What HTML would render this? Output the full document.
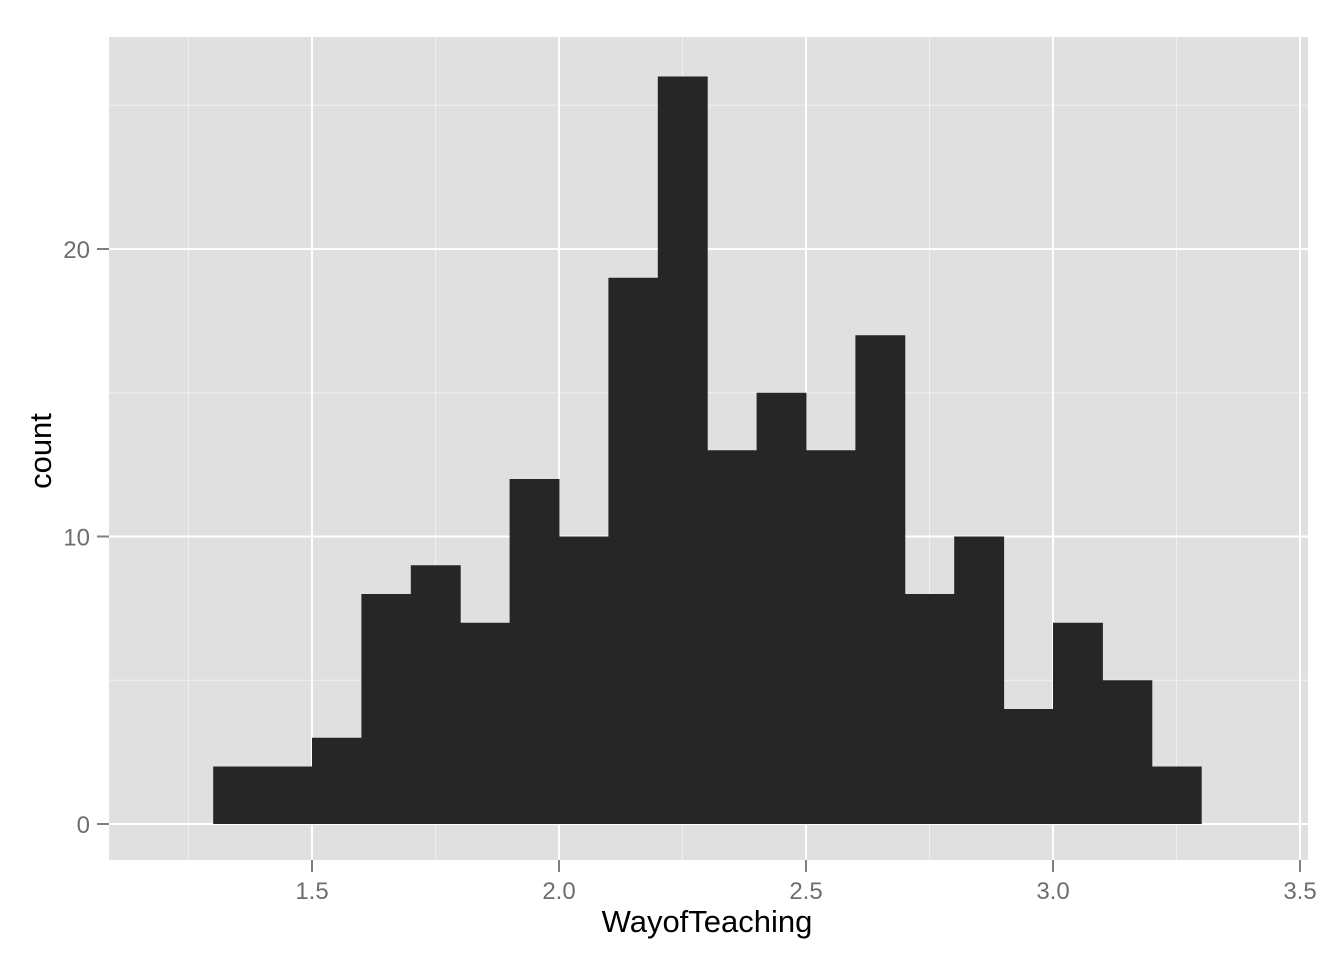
<!DOCTYPE html>
<html><head><meta charset="utf-8"><style>
body{margin:0;background:#fff;}
svg text{font-family:"Liberation Sans",Arial,sans-serif;}
</style></head><body>
<svg id="chart" width="1344" height="960">
<rect x="109" y="37" width="1199" height="823" fill="#e0e0e0"/>
<g id="grid"></g><g id="bars"></g><g id="axes"></g>
<text x="707" y="932" font-size="31" text-anchor="middle" fill="#000">WayofTeaching</text>
<text transform="translate(51,451) rotate(-90)" font-size="31" text-anchor="middle" fill="#000">count</text>
</svg>
<script>
const binStarts=[1.3,1.4,1.5,1.6,1.7,1.8,1.9,2.0,2.1,2.2,2.3,2.4,2.5,2.6,2.7,2.8,2.9,3.0,3.1,3.2];
const counts=[2,2,3,8,9,7,12,10,19,26,13,15,13,17,8,10,4,7,5,2];
const xTicks=[1.5,2.0,2.5,3.0,3.5];
const xTickLabels=["1.5","2.0","2.5","3.0","3.5"];
const yTicks=[0,10,20];
const xMinor=[1.25,1.75,2.25,2.75,3.25];
const yMinor=[5,15,25];
const binWidth=0.1;
const X=v=>312+(v-1.5)*494;
const Y=v=>824-v*28.75;
const ns="http://www.w3.org/2000/svg";
function mk(p,t,a){const e=document.createElementNS(ns,t);for(const k in a)e.setAttribute(k,a[k]);p.appendChild(e);return e;}
const g=document.getElementById('grid'),b=document.getElementById('bars'),ax=document.getElementById('axes');
xMinor.forEach(v=>{const l=mk(g,'line',{x1:X(v),x2:X(v),y1:37,y2:860,stroke:'#f0f0f0','stroke-width':1});

});
yMinor.forEach(v=>{const l=mk(g,'line',{x1:109,x2:1308,y1:Y(v),y2:Y(v),stroke:'#f0f0f0','stroke-width':1});

});
xTicks.forEach((v,i)=>{const l=mk(g,'line',{x1:X(v),x2:X(v),y1:37,y2:860,stroke:'#fff','stroke-width':2});


const t=mk(ax,'line',{x1:X(v),x2:X(v),y1:860,y2:872,stroke:'#7f7f7f','stroke-width':2});


const tx=mk(ax,'text',{x:X(v),y:899,'font-size':24,'text-anchor':'middle',fill:'#6e6e6e'});tx.textContent=xTickLabels[i];

});
yTicks.forEach(v=>{const l=mk(g,'line',{x1:109,x2:1308,y1:Y(v),y2:Y(v),stroke:'#fff','stroke-width':2});


const t=mk(ax,'line',{x1:97,x2:109,y1:Y(v),y2:Y(v),stroke:'#7f7f7f','stroke-width':2});


const tx=mk(ax,'text',{x:90,y:Y(v)+9,'font-size':24,'text-anchor':'end',fill:'#6e6e6e'});tx.textContent=String(v);

});
binStarts.forEach((s,i)=>{const r=mk(b,'rect',{x:X(s),y:Y(counts[i]),width:X(s+binWidth)-X(s)+0.5,height:Y(0)-Y(counts[i]),fill:'#262626'});

});
</script>
</body></html>
